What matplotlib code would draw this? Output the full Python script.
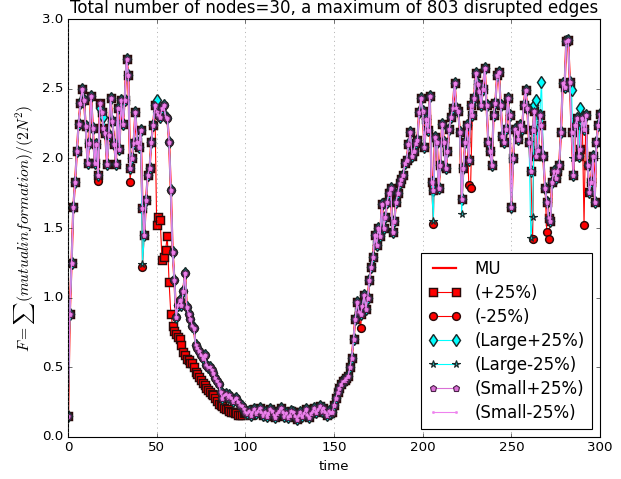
import numpy as np
import matplotlib
matplotlib.use("Agg")
import matplotlib.pyplot as plt

time = np.arange(0, 301)

# MU run, one value per time step
mu = [
    0.15, 0.88, 1.25, 1.65, 1.83, 2.05, 2.25, 2.40, 2.50, 2.42,
    2.23, 1.97, 2.11, 2.45, 2.22, 1.97, 2.10, 1.88, 2.40, 2.33,
    2.22, 2.18, 1.96, 2.17, 2.43, 2.27, 2.10, 1.96, 2.36, 2.07,
    2.42, 2.25, 2.42, 2.71, 2.60, 1.93, 2.00, 2.11, 2.33, 2.12,
    2.08, 2.20, 1.64, 1.45, 1.70, 1.88, 1.93, 2.12, 2.24, 2.38,
    2.33, 2.31, 2.30, 2.36, 2.38, 2.30, 2.29, 2.12, 1.77, 1.33,
    1.13, 0.86, 0.95, 0.98, 0.95, 1.05, 1.18, 0.93, 0.88, 0.85,
    0.80, 0.78, 0.66, 0.64, 0.62, 0.59, 0.57, 0.59, 0.52, 0.50,
    0.50, 0.48, 0.46, 0.42, 0.40, 0.38, 0.32, 0.28, 0.30, 0.31,
    0.29, 0.30, 0.28, 0.26, 0.27, 0.28, 0.25, 0.23, 0.22, 0.20,
    0.18, 0.17, 0.19, 0.16, 0.18, 0.20, 0.17, 0.19, 0.21, 0.18,
    0.16, 0.18, 0.15, 0.17, 0.20, 0.19, 0.16, 0.14, 0.17, 0.19,
    0.21, 0.18, 0.15, 0.17, 0.14, 0.16, 0.19, 0.18, 0.15, 0.13,
    0.16, 0.18, 0.15, 0.17, 0.20, 0.16, 0.14, 0.17, 0.19, 0.21,
    0.18, 0.20, 0.22, 0.19, 0.21, 0.18, 0.16, 0.19, 0.17, 0.18,
    0.23, 0.28, 0.32, 0.35, 0.38, 0.40, 0.41, 0.42, 0.44, 0.50,
    0.57, 0.70, 0.85, 0.97, 0.90, 0.88, 0.94, 1.02, 0.92, 1.00,
    1.13, 1.22, 1.29, 1.45, 1.38, 1.50, 1.44, 1.67, 1.50, 1.58,
    1.69, 1.75, 1.79, 1.47, 1.55, 1.69, 1.75, 1.82, 1.85, 1.88,
    1.97, 1.99, 2.10, 2.19, 2.02, 2.05, 2.11, 2.13, 2.33, 2.43,
    2.34, 2.08, 2.28, 2.20, 2.45, 1.83, 1.77, 2.15, 2.12, 1.79,
    1.95, 2.25, 2.12, 1.93, 2.05, 2.21, 2.30, 2.36, 2.54, 2.36,
    2.34, 2.19, 1.71, 1.93, 2.12, 2.24, 1.99, 2.38, 2.31, 2.43,
    2.61, 2.53, 2.48, 2.38, 2.50, 2.65, 2.38, 2.12, 2.05, 1.95,
    2.31, 2.40, 2.60, 2.62, 2.38, 2.16, 2.12, 2.21, 2.43, 2.31,
    1.65, 2.00, 2.21, 2.19, 2.14, 2.24, 2.21, 2.38, 2.49, 2.36,
    2.12, 1.91, 2.20, 2.34, 2.02, 2.06, 2.31, 2.24, 2.02, 1.79,
    1.69, 1.57, 1.55, 1.83, 1.91, 1.86, 1.91, 1.95, 2.19, 2.54,
    2.51, 2.84, 2.85, 2.55, 2.19, 1.88, 2.24, 2.29, 2.02, 2.07,
    2.29, 2.21, 2.31, 1.95, 1.76, 1.83, 2.02, 1.69, 2.12, 2.24,
    2.32,
]

# (+25%) leaves the MU curve early between t=50 and t=99
plus25_t = list(range(50, 100))
plus25_v = [
    1.52, 1.58, 1.56, 1.27, 1.29, 1.34, 1.44, 1.11, 0.88, 0.80,
    0.76, 0.74, 0.72, 0.70, 0.66, 0.61, 0.59, 0.56, 0.55, 0.53,
    0.53, 0.50, 0.47, 0.45, 0.43, 0.41, 0.39, 0.37, 0.35, 0.34,
    0.32, 0.31, 0.30, 0.28, 0.26, 0.24, 0.23, 0.22, 0.21, 0.20,
    0.20, 0.19, 0.18, 0.18, 0.17, 0.17, 0.16, 0.16, 0.16, 0.17,
]
# other runs only differ from MU at a few time steps
minus25_dev = {17: 1.84, 35: 1.83, 42: 1.22, 165: 0.78, 206: 1.53, 226: 1.81,
               227: 1.79, 262: 1.42, 270: 1.47, 271: 1.42, 291: 1.52}
large_p25_dev = {18: 2.36, 19: 2.33, 20: 2.30, 50: 2.42, 263: 2.38, 264: 2.42,
                 267: 2.55, 284: 2.49, 289: 2.36}
large_m25_dev = {42: 1.24, 206: 1.55, 222: 1.60, 261: 1.43, 262: 1.58,
                 272: 1.55, 285: 2.00}


def variant(t_list, v_list):
    y = np.array(mu, dtype=float)
    y[list(t_list)] = v_list
    return y


plus25 = variant(plus25_t, plus25_v)
minus25 = variant(minus25_dev.keys(), list(minus25_dev.values()))
large_p25 = variant(large_p25_dev.keys(), list(large_p25_dev.values()))
large_m25 = variant(large_m25_dev.keys(), list(large_m25_dev.values()))
small_p25 = np.array(mu, dtype=float)
small_m25 = np.array(mu, dtype=float)

plt.style.use('classic')
fig = plt.figure(figsize=(621 / 80.0, 479 / 80.0), dpi=80)
ax = fig.add_axes([68 / 621.0, 42 / 479.0, 532 / 621.0, 418 / 479.0])

edge = '#2a0a0a'
ax.plot(time, mu, '-', color='red', lw=2, label='MU')
ax.plot(time, plus25, '-s', color='red', mfc='red', mec=edge, mew=1.3, ms=7, lw=1, label='(+25%)')
ax.plot(time, minus25, '-o', color='red', mfc='red', mec=edge, mew=1.3, ms=7, lw=1, label='(-25%)')
ax.plot(time, large_p25, '-d', color='cyan', mfc='cyan', mec='#1a2a2a', mew=1.3, ms=8, lw=1, label='(Large+25%)')
ax.plot(time, large_m25, '-*', color='cyan', mfc='#20b0b0', mec='#1a2a2a', mew=1.0, ms=7, lw=1, label='(Large-25%)')
ax.plot(time, small_p25, '-p', color='orchid', mfc='orchid', mec='#4a2048', mew=1.0, ms=6, lw=1, label='(Small+25%)')
ax.plot(time, small_m25, color='violet', linestyle='-', marker='.', mfc='violet', mec='violet',
        ms=4, lw=1, label='(Small-25%)')

ax.set_xlim(0, 300)
ax.set_ylim(0, 3.0)
ax.xaxis.grid(True, linestyle=':', color='gray')
ax.yaxis.grid(False)
ax.set_xlabel('time')
ax.set_ylabel(r'$F=\sum(mutual information)/(2N^2)$', fontsize=14)
ax.set_title('Total number of nodes=30, a maximum of 803 disrupted edges', fontsize=15)
ax.legend(loc='lower right', numpoints=2, fontsize=15, labelspacing=0.36)

fig.savefig('out.png', dpi=80)
